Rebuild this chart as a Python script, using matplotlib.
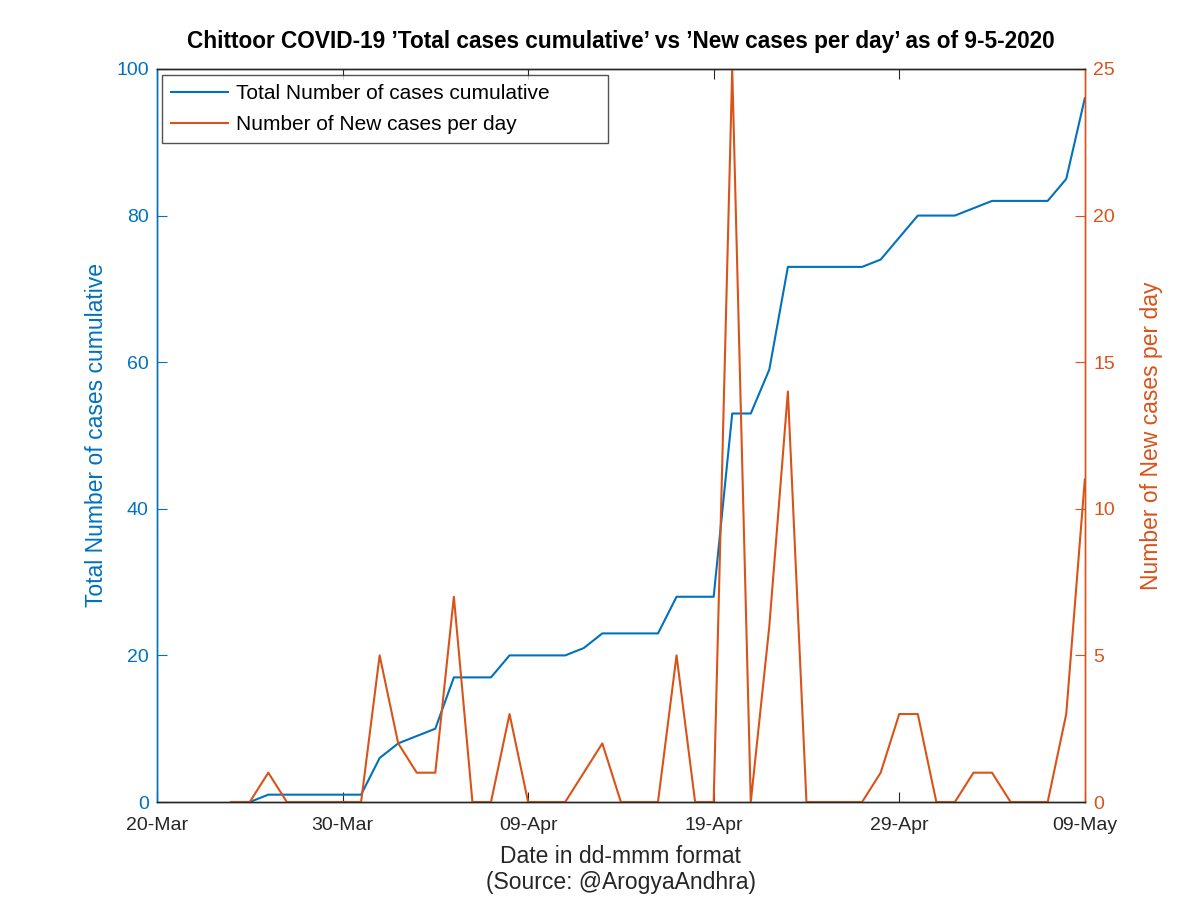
import numpy as np
import pandas as pd
import matplotlib
matplotlib.use("Agg")
import matplotlib.pyplot as plt
import matplotlib.dates as mdates

plt.rcParams['font.family'] = ['Liberation Sans', 'DejaVu Sans']

# data: 24-Mar to 09-May 2020
dates = pd.date_range("2020-03-24", "2020-05-09", freq="D")
total_cases = [0, 0, 1, 1, 1, 1, 1, 1, 6, 8, 9, 10, 17, 17, 17, 20, 20, 20, 20,
               21, 23, 23, 23, 23, 28, 28, 28, 53, 53, 59, 73, 73, 73, 73, 73,
               74, 77, 80, 80, 80, 81, 82, 82, 82, 82, 85, 96]
new_cases = [0, 0, 1, 0, 0, 0, 0, 0, 5, 2, 1, 1, 7, 0, 0, 3, 0, 0, 0,
             1, 2, 0, 0, 0, 5, 0, 0, 25, 0, 6, 14, 0, 0, 0, 0,
             1, 3, 3, 0, 0, 1, 1, 0, 0, 0, 3, 11]
tick_dates = pd.to_datetime(["2020-03-20", "2020-03-30", "2020-04-09",
                             "2020-04-19", "2020-04-29", "2020-05-09"])

blue = "#0072BD"
orange = "#D95319"

fig = plt.figure(figsize=(12, 8.98), dpi=100)
ax = fig.add_axes([0.1308, 0.1069, 0.904 - 0.1308, 0.9232 - 0.1069])
ax2 = ax.twinx()

l1, = ax.plot(dates, total_cases, color=blue, lw=1.5,
              label="Total Number of cases cumulative")
l2, = ax2.plot(dates, new_cases, color=orange, lw=1.5,
               label="Number of New cases per day")

ax.set_xlim(tick_dates[0], tick_dates[-1])
ax.set_ylim(0, 100)
ax2.set_ylim(0, 25)
ax.set_yticks([0, 20, 40, 60, 80, 100])
ax2.set_yticks([0, 5, 10, 15, 20, 25])
ax.set_xticks(tick_dates)
ax.xaxis.set_major_formatter(mdates.DateFormatter("%d-%b"))

ax.tick_params(axis="x", direction="in", length=7, top=True, labelsize=14,
               colors="#262626", pad=11)
ax.tick_params(axis="y", direction="in", length=7, colors=blue, labelsize=14, pad=6)
ax2.tick_params(axis="y", direction="in", length=7, colors=orange, labelsize=14, pad=6)

for a in (ax, ax2):
    a.spines["top"].set_color("#262626")
    a.spines["bottom"].set_color("#262626")
    a.spines["left"].set_color(blue)
    a.spines["right"].set_color(orange)
    for s in a.spines.values():
        s.set_linewidth(1.0)

ax.set_ylabel("Total Number of cases cumulative", color=blue, fontsize=16.5, labelpad=6)
ax2.set_ylabel("Number of New cases per day", color=orange, fontsize=16.5, labelpad=18)
ax.set_xlabel("Date in dd-mmm format\n(Source: @ArogyaAndhra)", fontsize=16.5,
              color="#262626", labelpad=8, linespacing=1.15)
ax.set_title("Chittoor COVID-19 \u2019Total cases cumulative\u2019 vs \u2019New cases per day\u2019 as of 9-5-2020",
             fontsize=16.3, fontweight="bold", pad=15)

leg = ax2.legend(handles=[l1, l2], loc="upper left", fontsize=15,
                 frameon=True, fancybox=False, edgecolor="#262626",
                 bbox_to_anchor=(0.0054, 0.0, 0.4806, 0.9918), mode="expand",
                 borderaxespad=0.0, handlelength=2.7, handletextpad=0.4,
                 labelspacing=0.55, borderpad=0.45)
leg.get_frame().set_linewidth(1.0)

fig.savefig("out.png", dpi=100)
